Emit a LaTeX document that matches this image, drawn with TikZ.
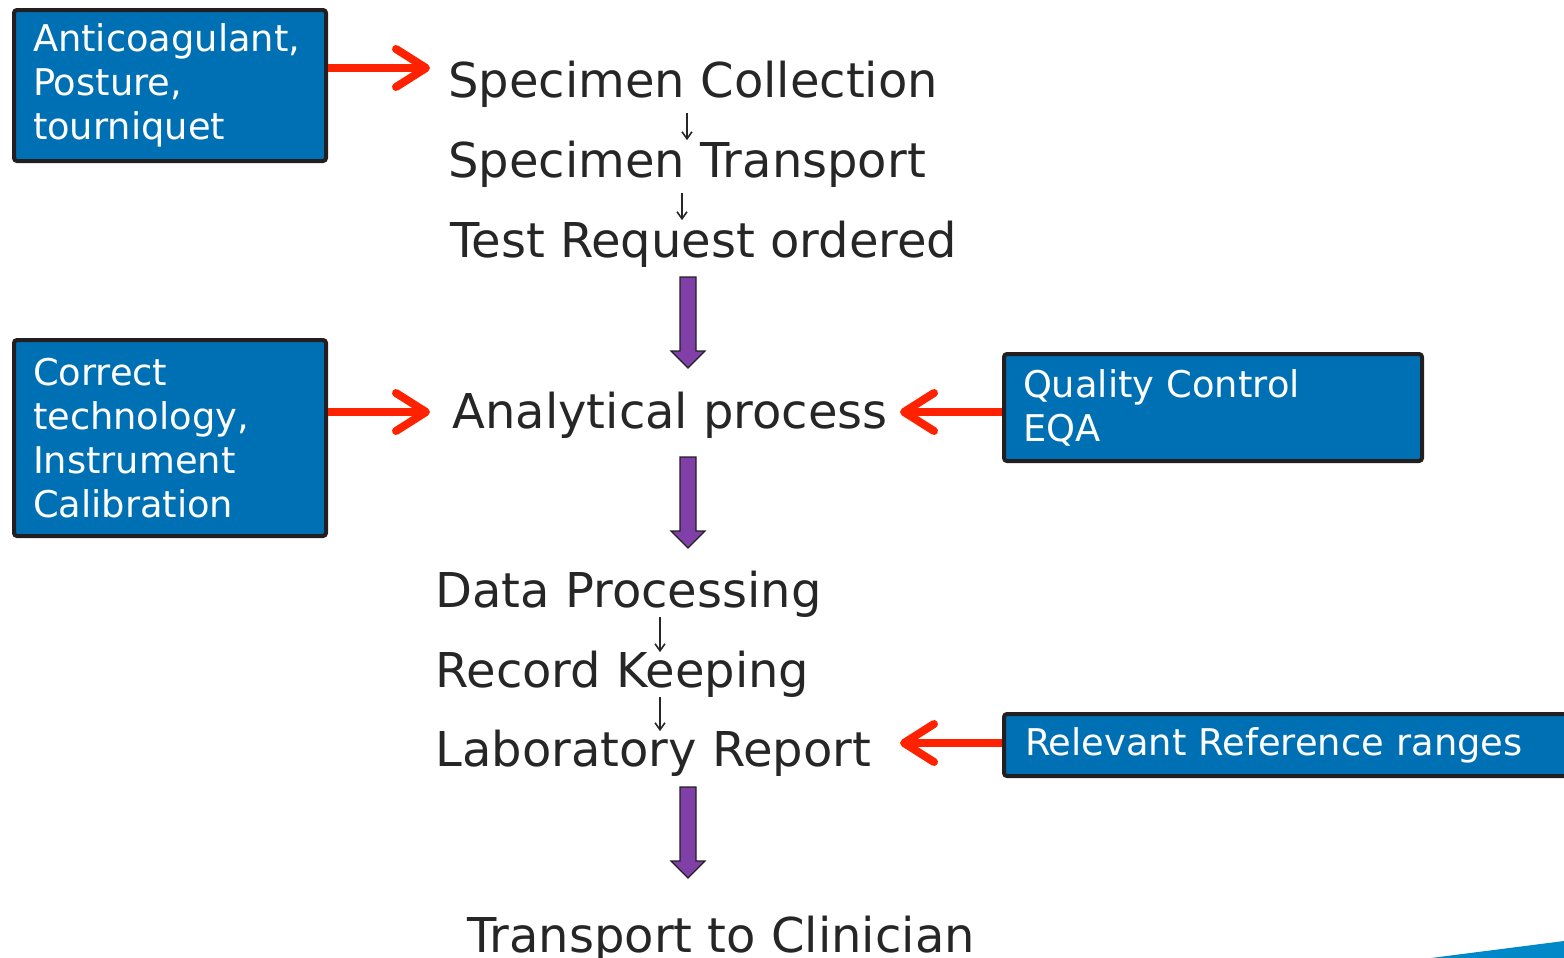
\documentclass[tikz,border=0pt]{standalone}
\usepackage{fontspec}
\setmainfont{DejaVu Sans}
\usetikzlibrary{arrows.meta}

\definecolor{boxblue}{HTML}{0070B4}
\definecolor{boxedge}{HTML}{231F20}
\definecolor{redarrow}{HTML}{FF2200}
\definecolor{stepviolet}{HTML}{8040A8}
\definecolor{textgray}{HTML}{262626}
\definecolor{wedgeblue}{HTML}{0088C8}

\tikzset{
  infobox/.style={draw=boxedge, line width=2pt, fill=boxblue, rounded corners=1.5pt,
    text=white, anchor=north west, align=left, inner xsep=9.5pt, inner ysep=0pt,
    font=\fontsize{18.4}{22}\selectfont},
  stage/.style={anchor=base west, text=textgray, inner sep=0pt,
    font=\fontsize{24}{28}\selectfont},
  redarr/.style={draw=redarrow, line width=4pt,
    -{Straight Barb[length=15pt,width=19pt,line cap=round,line join=round]}},
  thinarr/.style={draw=textgray, line width=0.8pt, -{Straight Barb[length=3.5pt,width=5pt]}},
  bigarr/.style={draw=boxedge, line width=0.6pt, fill=stepviolet},
}

% block arrow pointing down: x of axis, y of top
\newcommand{\stagearrow}[2]{%
  \draw[bigarr] (#1-8,#2) -- (#1+8,#2) -- (#1+8,#2+74) -- (#1+17,#2+74)
    -- (#1,#2+91) -- (#1-17,#2+74) -- (#1-8,#2+74) -- cycle;}

\begin{document}
\begin{tikzpicture}[x=0.5pt,y=-0.5pt]
\useasboundingbox (0,0) rectangle (1564,958);
\clip (0,0) rectangle (1564,958);

% left and right boxes
\node[infobox, text width=137pt, minimum width=156pt, minimum height=75.5pt] (anti) at (12,8)
  {Anticoagulant,\\Posture,\\tourniquet};
\node[infobox, text width=137pt, minimum width=156pt, minimum height=98pt] (tech) at (12,338)
  {Correct\\technology,\\Instrument\\Calibration};
\node[infobox, text width=190pt, minimum width=209pt, minimum height=53.5pt] (qc) at (1002,352)
  {Quality Control\\EQA};
\node[infobox, text width=270pt, minimum width=291pt, minimum height=31pt] (ref) at (1002,712)
  {Relevant Reference ranges};

% stages
\node[stage] (coll) at (448,97) {Specimen Collection};
\node[stage] (trans) at (448,177) {Specimen Transport};
\node[stage] (req) at (450,257) {Test Request ordered};
\node[stage] (anal) at (452,428) {Analytical process};
\node[stage] (data) at (435,607) {Data Processing};
\node[stage] (rec) at (435,687) {Record Keeping};
\node[stage] (lab) at (435,766) {Laboratory Report};
\node[stage] (clin) at (467,952) {Transport to Clinician};

% small arrows
\coordinate (xa) at (687,0);
\coordinate (xb) at (682,0);
\coordinate (xc) at (660,0);
\draw[thinarr] ([yshift=-3pt]coll.south -| xa) -- (trans.north -| xa);
\draw[thinarr] ([yshift=-3pt]trans.south -| xb) -- (req.north -| xb);
\draw[thinarr] (data.south -| xc) -- ([yshift=-1pt]rec.north -| xc);
\draw[thinarr] (rec.south -| xc) -- ([yshift=-1pt]lab.north -| xc);

% big arrows
\stagearrow{688}{277}
\stagearrow{688}{457}
\stagearrow{688}{787}

% red arrows
\coordinate (tipa) at (430,68);
\coordinate (tipb) at (430,412);
\coordinate (tipc) at (900,412);
\coordinate (tipd) at (900,743);
\draw[redarr] (anti.east |- tipa) -- (tipa);
\draw[redarr] (tech.east |- tipb) -- (tipb);
\draw[redarr] (qc.west |- tipc) -- (tipc);
\draw[redarr] (ref.west |- tipd) -- (tipd);

% corner wedge
\fill[wedgeblue] (1431,958) -- (1564,941) -- (1564,958) -- cycle;
\end{tikzpicture}
\end{document}
